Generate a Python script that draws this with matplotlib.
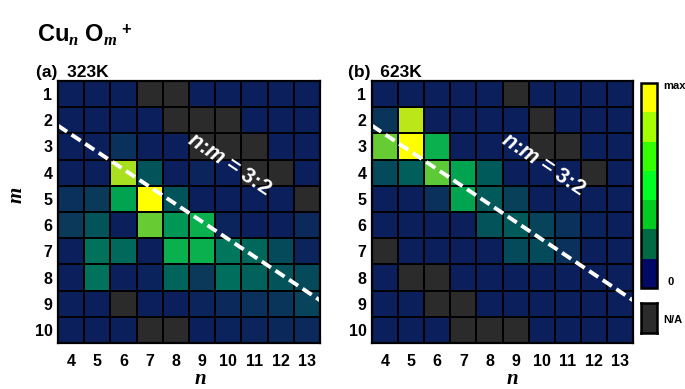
import numpy as np
import matplotlib
matplotlib.use("Agg")
import matplotlib.pyplot as plt
from matplotlib.colors import LinearSegmentedColormap, ListedColormap
import matplotlib.colorbar as mcolorbar

plt.rcParams['font.family'] = ['Liberation Sans', 'DejaVu Sans']
plt.rcParams['mathtext.fontset'] = 'custom'
plt.rcParams['mathtext.rm'] = 'Liberation Sans:bold'
plt.rcParams['mathtext.bf'] = 'Liberation Sans:bold'
plt.rcParams['mathtext.it'] = 'Liberation Serif:italic:bold'
plt.rcParams['mathtext.sf'] = 'Liberation Sans:italic:bold'

# datos: filas m = 1..10, columnas n = 4..13 (None = N/A)
n_vals = [4, 5, 6, 7, 8, 9, 10, 11, 12, 13]
m_vals = [1, 2, 3, 4, 5, 6, 7, 8, 9, 10]

signal_323K = [
    [0, 0, 0, None, None, 0, 0, 0, 0, 0],
    [0, 0, 0, 0, None, None, None, 0, 0, 0],
    [0, 0, 0.08, 0, 0, None, None, None, 0, 0],
    [0, 0, 0.85, 0.2, 0, 0.03, 0, None, None, 0],
    [0.08, 0.12, 0.5, 1.0, 0.2, 0, 0, 0, 0, None],
    [0.12, 0.2, 0, 0.72, 0.45, 0.56, 0.03, 0, 0, 0.05],
    [0, 0.32, 0.28, 0, 0.56, 0.56, 0.33, 0.27, 0.17, 0.03],
    [0, 0.32, 0, 0.02, 0.26, 0.12, 0.3, 0.25, 0.2, 0.17],
    [0, 0, None, 0, 0, 0.03, 0.05, 0.08, 0.1, 0.15],
    [0, 0, 0, None, None, 0, 0.02, 0.03, 0.04, 0.05],
]

signal_623K = [
    [0, 0, 0, 0, 0, None, 0, 0, 0, 0],
    [0.1, 0.88, 0, 0, 0, 0, None, 0, 0, 0],
    [0.72, 1.0, 0.56, 0, 0, 0, None, None, 0, 0],
    [0.17, 0.24, 0.7, 0.5, 0.22, 0, 0, 0, None, 0],
    [0, 0, 0.08, 0.5, 0.22, 0.14, 0, 0, 0, 0],
    [0, 0, 0, 0, 0.2, 0.22, 0.15, 0.08, 0.02, 0],
    [None, 0, 0, 0, 0, 0.17, 0.17, 0.08, 0, 0],
    [0, None, None, 0, 0, 0, 0, 0, 0, 0],
    [0, 0, None, None, 0, 0, 0, 0, 0, 0],
    [0, 0, 0, None, None, None, 0, 0, 0, 0],
]

panel_labels = ["(a)  323K", "(b)  623K"]
ratio_label = r"$\mathsf{n}$:$\mathsf{m}$ = 3:2"
ratio = 2 / 3
line_offset = -0.13

cbar_colors = ['#000a66', '#006a44', '#00cc22', '#00ff22', '#33ff00', '#a5ff00', '#ffff00']

cmap = LinearSegmentedColormap.from_list('cuo', [
    (0.0, '#0b1f5c'), (0.12, '#0a3a5a'), (0.22, '#005a5a'), (0.32, '#00735c'),
    (0.42, '#00905a'), (0.5, '#00a350'), (0.56, '#0ab04e'), (0.72, '#66cc33'),
    (0.85, '#a8e020'), (1.0, '#ffff00')])
cmap.set_bad('#2b2b2b')

fig = plt.figure(figsize=(6.85, 3.89), dpi=100)
W, H = 685, 389


def px_axes(x0, y0, x1, y1):
    return fig.add_axes([x0 / W, 1 - y1 / H, (x1 - x0) / W, (y1 - y0) / H])


axes = [px_axes(58, 81, 320, 343), px_axes(372, 81, 633, 343)]
n_edges = np.array(n_vals + [n_vals[-1] + 1]) - 0.5
m_edges = np.array(m_vals + [m_vals[-1] + 1]) - 0.5

for ax, data in zip(axes, [signal_323K, signal_623K]):
    arr = np.array([[np.nan if v is None else v for v in row] for row in data], dtype=float)
    ax.pcolormesh(n_edges, m_edges, np.ma.masked_invalid(arr), cmap=cmap, vmin=0, vmax=1,
                  edgecolors='black', linewidth=1.3)
    ax.set_xlim(n_edges[0], n_edges[-1])
    ax.set_ylim(m_edges[-1], m_edges[0])
    ax.set_xticks(n_vals)
    ax.set_yticks(m_vals)
    ax.tick_params(length=0, labelsize=11.5)
    ax.tick_params(axis='x', pad=8)
    ax.tick_params(axis='y', pad=4)
    for lab in ax.get_xticklabels() + ax.get_yticklabels():
        lab.set_fontweight('bold')
    for s in ax.spines.values():
        s.set_linewidth(1.6)
    # línea n:m = 3:2
    xl = np.array([n_edges[0], n_edges[-1]])
    ax.plot(xl, ratio * xl + line_offset, color='white', lw=2.8, dashes=(2.8, 1.4))
    ax.text(10.05, 3.7, ratio_label, color='white', fontsize=15.5, fontweight='bold',
            rotation=-33.8, ha='center', va='center', rotation_mode='anchor')

# títulos
fig.text(37 / W, 1 - 42 / H, r"Cu$_{\mathit{n}}$ O$_{\mathit{m}}$$^{\,+}$", fontsize=17,
         fontweight='bold', ha='left', va='baseline')
fig.text(36 / W, 1 - 77 / H, panel_labels[0], fontsize=12.5, fontweight='bold', va='baseline')
fig.text(348 / W, 1 - 77 / H, panel_labels[1], fontsize=12.5, fontweight='bold', va='baseline')

# etiquetas de ejes
fig.text(17 / W, 1 - 195 / H, r"$\mathit{m}$", fontsize=15, rotation=90, ha='center', va='center')
fig.text(200 / W, 1 - 378 / H, r"$\mathit{n}$", fontsize=15, ha='center', va='center')
fig.text(512 / W, 1 - 378 / H, r"$\mathit{n}$", fontsize=15, ha='center', va='center')

# barra de color
cax = px_axes(641, 83, 657, 288)
cb = mcolorbar.ColorbarBase(cax, cmap=ListedColormap(cbar_colors), orientation='vertical')
cb.set_ticks([])
cb.outline.set_linewidth(1.8)
fig.text(663 / W, 1 - 86 / H, "max", fontsize=8, fontweight='bold', va='center')
fig.text(668 / W, 1 - 282 / H, "0", fontsize=8, fontweight='bold', va='center')

nax = px_axes(641, 303, 657, 333)
nax.set_facecolor('#2b2b2b')
nax.set_xticks([])
nax.set_yticks([])
for s in nax.spines.values():
    s.set_linewidth(1.8)
fig.text(663 / W, 1 - 320 / H, "N/A", fontsize=8, fontweight='bold', va='center')

fig.savefig("out.png", dpi=100)
